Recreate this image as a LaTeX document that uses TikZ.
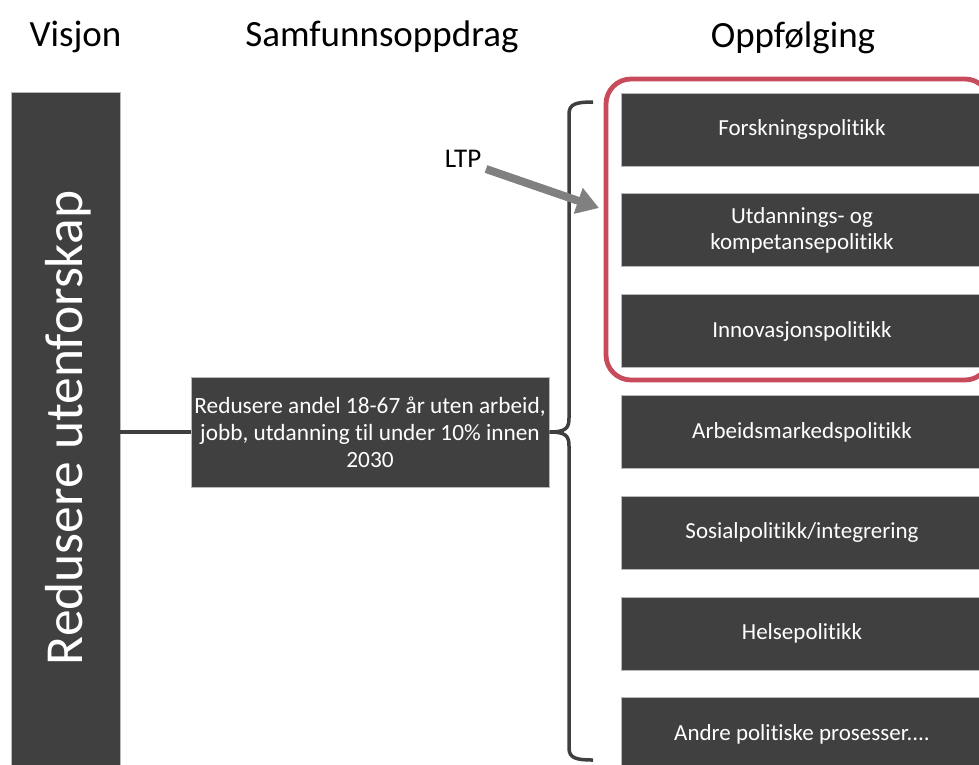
\documentclass[tikz,border=0pt]{standalone}
\usepackage{fontspec}
\setmainfont{Carlito}[Ligatures=NoCommon]
\usetikzlibrary{arrows.meta}
\definecolor{boxgray}{HTML}{404040}
\definecolor{redline}{HTML}{C74B5B}
\definecolor{arrowgray}{HTML}{808080}
\definecolor{linegray}{HTML}{3F3F3F}
\begin{document}
\begin{tikzpicture}[x=1pt,y=-1pt,
  darkbox/.style={fill=boxgray, draw=gray!55, line width=0.8pt, inner sep=0pt, text=white, align=center, font=\fontsize{23}{26}\selectfont},
  rbox/.style={darkbox, minimum width=362pt, minimum height=73pt},
  title/.style={font=\fontsize{37}{44}\selectfont, anchor=base},
  conn/.style={draw=linegray, line width=3.5pt}]
\useasboundingbox (0,0) rectangle (979,764);
% titles
\node[title] (t1) at (75.5,46) {Visjon};
\node[title] (t2) at (382,46) {Samfunnsoppdrag};
\node[title] (t3) at (793,47) {Oppfølging};
% vision box
\node[darkbox, minimum width=109pt, minimum height=680pt] (vis) at (65.5,432) {};
\node[text=white, rotate=90, anchor=base, inner sep=0pt, font=\fontsize{53.5}{60}\selectfont] (vistext) at (82,428) {Redusere utenforskap};
% mission box
\node[darkbox, minimum width=358pt, minimum height=110pt, font=\fontsize{23.3}{27}\selectfont] (mid) at (370,432)
  {Redusere andel 18-67 år uten arbeid,\\jobb, utdanning til under 10\% innen\\2030};
\draw[conn] (vis.east |- mid.west) -- (mid.west);
% brace
\coordinate (bractop) at (593,102);
\coordinate (bracbot) at (593,760);
\draw[conn, line cap=butt] (bractop) .. controls (576,102) and (569,104) .. (569,114) -- (569,418)
  .. controls (569,428) and (566,432) .. (mid.east)
  .. controls (566,432) and (569,436) .. (569,446) -- (569,748)
  .. controls (569,758) and (576,760) .. (bracbot);
% follow-up boxes
\node[rbox] (r1) at (802,129.5) {Forskningspolitikk};
\node[rbox] (r2) at (802,230.3) {Utdannings- og\\kompetansepolitikk};
\node[rbox] (r3) at (802,331.1) {Innovasjonspolitikk};
\node[rbox] (r4) at (802,431.9) {Arbeidsmarkedspolitikk};
\node[rbox] (r5) at (802,532.7) {Sosialpolitikk/integrering};
\node[rbox] (r6) at (802,633.5) {Helsepolitikk};
\node[rbox] (r7) at (802,734.3) {Andre politiske prosesser....};
% red highlight
\draw[redline, line width=4.8pt, rounded corners=25pt] (606,79) rectangle (990,380);
% LTP arrow
\node[anchor=base, inner sep=0pt, font=\fontsize{27}{32}\selectfont] (ltp) at (463,167) {LTP};
\coordinate (ltpstart) at (486,169);
\coordinate (ltpend) at (599,208);
\draw[arrowgray, line width=8pt, -{Triangle[length=22pt,width=26pt]}] (ltpstart) -- (ltpend);
\end{tikzpicture}
\end{document}
